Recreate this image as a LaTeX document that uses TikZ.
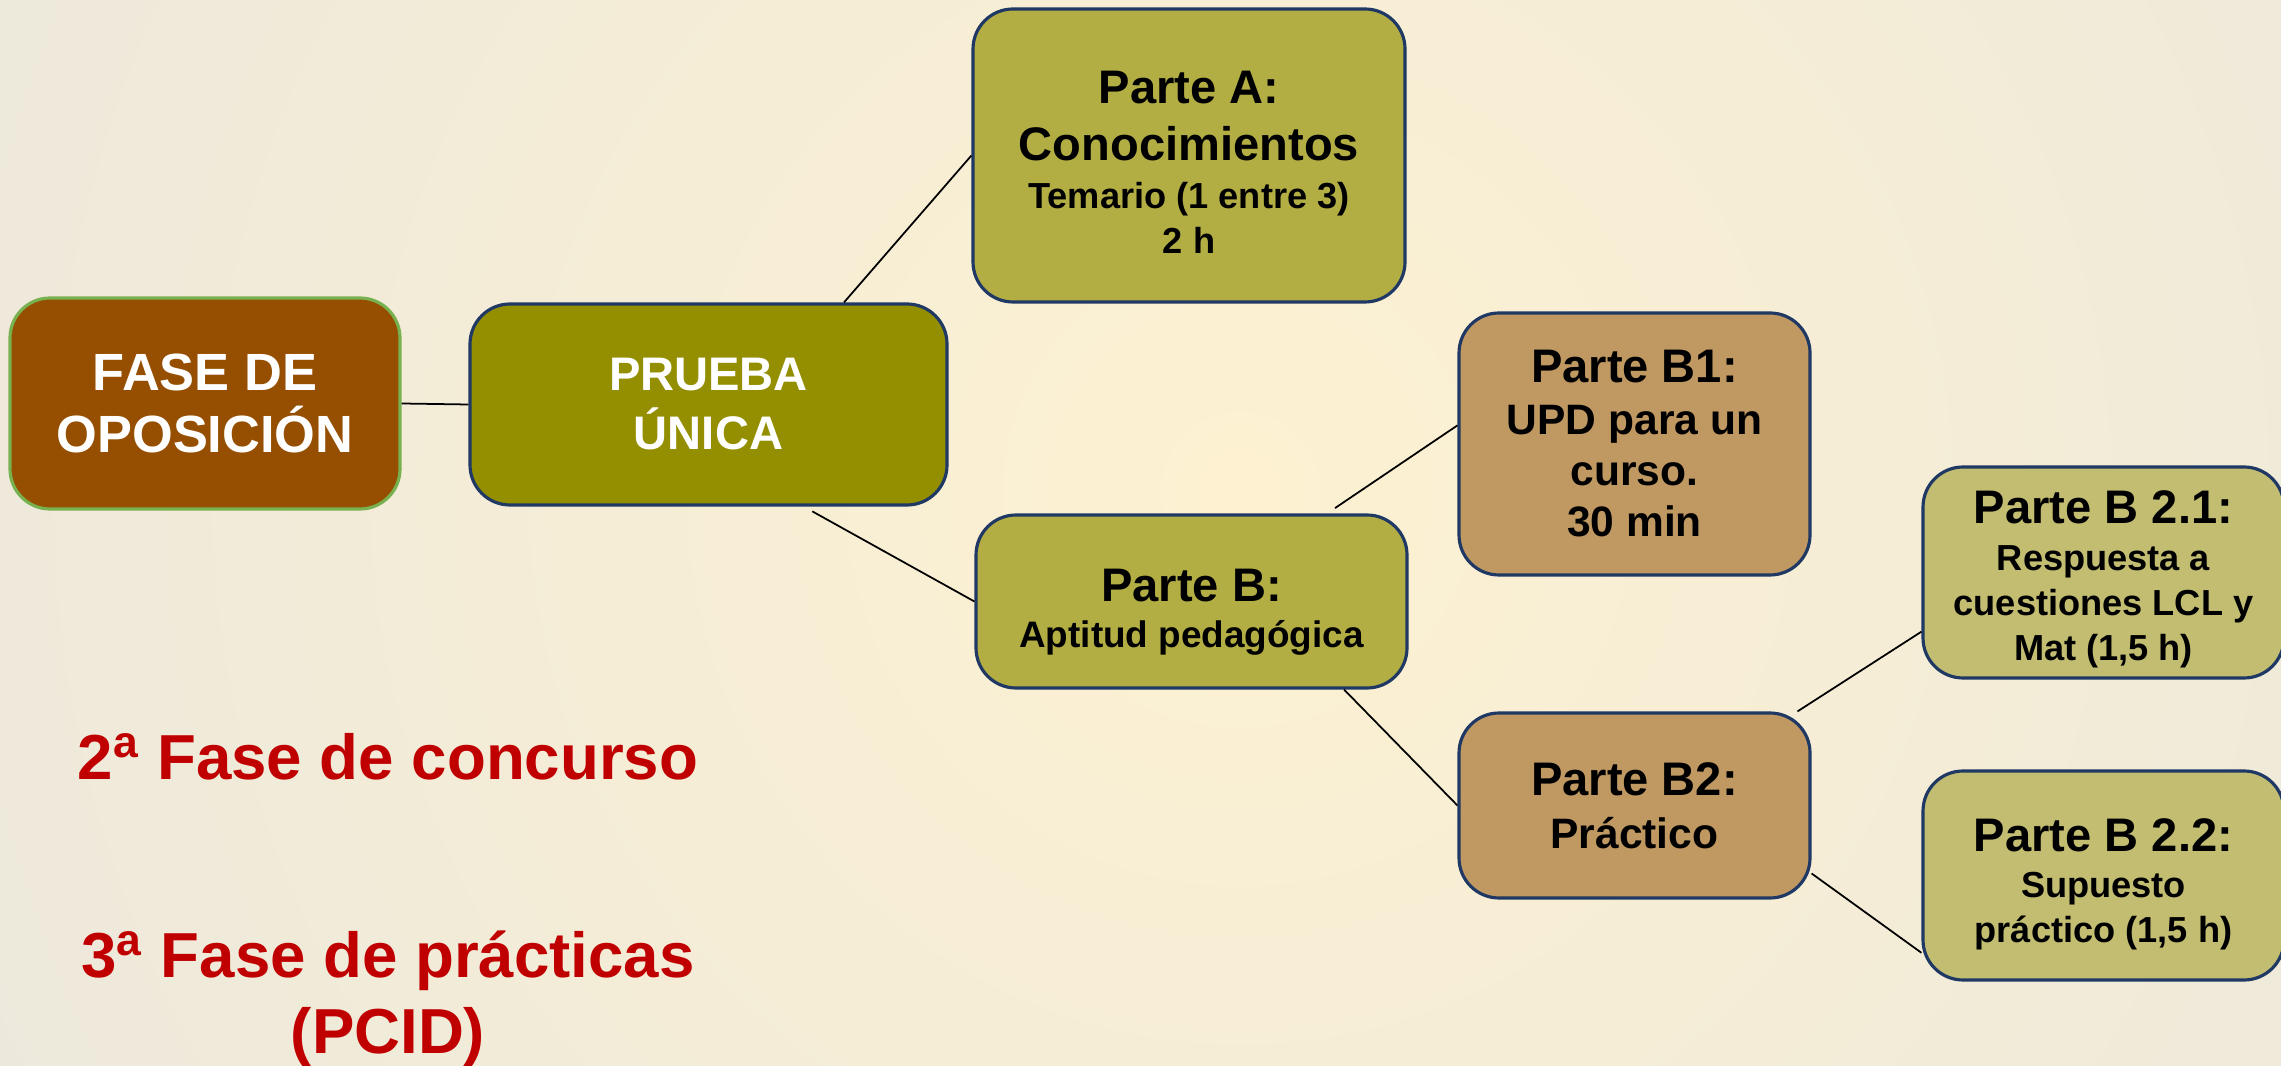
\documentclass[tikz,border=0pt]{standalone}
\usepackage{fontspec}
\setmainfont{Liberation Sans}

\definecolor{bggray}{HTML}{E6E5E0}
\definecolor{glow}{HTML}{FDF1D1}
\definecolor{navy}{HTML}{1F3864}
\definecolor{fasebrown}{HTML}{964F00}
\definecolor{fasegreen}{HTML}{77B150}
\definecolor{pruebaolive}{HTML}{948F00}
\definecolor{khaki}{HTML}{B3AE44}
\definecolor{tanbox}{HTML}{C09862}
\definecolor{lightkhaki}{HTML}{C2BD71}
\definecolor{fasered}{HTML}{C00000}

\newcommand{\bigtxt}{\fontsize{13.4}{16.2}\selectfont}
\newcommand{\smalltxt}{\fontsize{10.3}{12.8}\selectfont}
\newcommand{\midtxt}{\fontsize{12.1}{14.6}\selectfont}
\newcommand{\fasetxt}{\fontsize{14.9}{17.9}\selectfont}
\newcommand{\redtxt}{\fontsize{18.1}{21.6}\selectfont}
% taller first line pushes the text block down a little
\newcommand{\drop}[1]{\rule{0pt}{#1}}

\tikzset{
  box/.style={draw=navy, line width=0.9pt, rounded corners=0.4cm, inner sep=0pt, align=center},
  link/.style={draw=black, line width=0.5pt},
}

\begin{document}
\begin{tikzpicture}
      \useasboundingbox (0,0) rectangle (22.81,10.65);
      \fill[bggray] (0,0) rectangle (22.81,10.65);
      \begin{scope}
        \clip (0,0) rectangle (22.81,10.65);
        \shade[inner color=glow, outer color=bggray] (12.4,5.75) circle (19);
      \end{scope}

      \node[box, fill=fasebrown, draw=fasegreen, text=white, font=\bfseries\fasetxt,
            minimum width=3.9cm, minimum height=2.11cm] (fase) at (2.05,6.615) {FASE DE\\OPOSICIÓN};
      \node[box, fill=pruebaolive, text=white, font=\bfseries\fontsize{13.4}{16.8}\selectfont,
            minimum width=4.77cm, minimum height=2.01cm] (prueba) at (7.085,6.605) {PRUEBA\\ÚNICA};
      \node[box, fill=khaki, font=\bfseries\smalltxt,
            minimum width=4.32cm, minimum height=2.93cm] (partea) at (11.89,9.095)
            {{\bigtxt\drop{13pt}Parte A:}\\[3.4pt]{\bigtxt Conocimientos}\\[0.9pt]Temario (1 entre 3)\\2 h};
      \node[box, fill=khaki, font=\bfseries\fontsize{10.5}{13.1}\selectfont,
            minimum width=4.31cm, minimum height=1.73cm] (partb) at (11.915,4.635)
            {{\bigtxt\drop{15.5pt}Parte B:}\\Aptitud pedagógica};
      \node[box, fill=tanbox, font=\bfseries\midtxt,
            minimum width=3.51cm, minimum height=2.62cm] (partb1) at (16.345,6.21)
            {{\bigtxt Parte B1:}\\UPD para un\\curso.\\30 min};
      \node[box, fill=tanbox, font=\bfseries\midtxt,
            minimum width=3.51cm, minimum height=1.85cm] (partb2) at (16.345,2.595)
            {{\bigtxt Parte B2:}\\[0.5pt]Práctico};
      \node[box, fill=lightkhaki, font=\bfseries\smalltxt,
            minimum width=3.61cm, minimum height=2.11cm] (partb21) at (21.035,4.925)
            {{\bigtxt\drop{13.2pt}Parte B 2.1:}\\[0.5pt]Respuesta a\\cuestiones LCL y\\Mat (1,5 h)};
      \node[box, fill=lightkhaki, font=\bfseries\smalltxt,
            minimum width=3.61cm, minimum height=2.09cm] (partb22) at (21.035,1.895)
            {{\bigtxt\drop{14.3pt}Parte B 2.2:}\\[0.5pt]Supuesto\\práctico (1,5 h)};

      \draw[link] (fase.east) -- (prueba.west);
      \draw[link] (prueba.37) -- (partea.west);
      \draw[link, shorten <=2.8pt] (prueba.-47.7) -- (partb.west);
      \draw[link, shorten <=2.7pt] (partb.33.5) -- (partb1.174.8);
      \draw[link] (partb.-30.5) -- (partb2.west);
      \draw[link] (partb2.30.3) -- (partb21.198);
      \draw[link] (partb2.-21.6) -- (partb22.203.8);

      \node[text=fasered, font=\bfseries\redtxt, anchor=base] (concurso) at (3.88,2.85)
            {2\textsuperscript{a} Fase de concurso};
      \node[text=fasered, font=\bfseries\redtxt, anchor=base, align=center] (practicas) at (3.88,0.12)
            {3\textsuperscript{a} Fase de prácticas\\(PCID)};
\end{tikzpicture}
\end{document}
